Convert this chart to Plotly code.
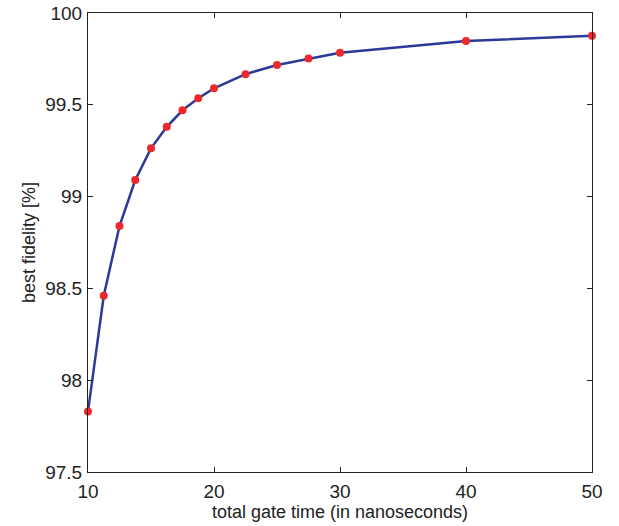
import plotly.graph_objects as go

gate_time_ns = [10, 11.25, 12.5, 13.75, 15, 16.25, 17.5, 18.75, 20, 22.5, 25, 27.5, 30, 40, 50]
best_fidelity = [97.83, 98.46, 98.84, 99.09, 99.263, 99.38, 99.47, 99.535, 99.59,
                 99.667, 99.717, 99.752, 99.783, 99.847, 99.876]

x_ticks = [10, 20, 30, 40, 50]
y_ticks = [97.5, 98, 98.5, 99, 99.5, 100]
y_tick_labels = ["97.5", "98", "98.5", "99", "99.5", "100"]

fig = go.Figure()
fig.add_trace(go.Scatter(
    x=gate_time_ns, y=best_fidelity, mode="lines+markers",
    line=dict(color="#2b3a98", width=2.5),
    marker=dict(color="#ec2a2e", size=8),
    showlegend=False, cliponaxis=False,
))

tick_font = dict(family="Liberation Sans, Arial, sans-serif", size=19, color="#222222")
title_font = dict(family="Liberation Sans, Arial, sans-serif", size=18, color="#222222")
axis_common = dict(
    showgrid=False, zeroline=False, showline=True, linecolor="#222222", linewidth=1,
    ticks="inside", ticklen=5, tickcolor="#222222", tickwidth=1, mirror="ticks",
    tickfont=tick_font, ticklabeloverflow="allow", automargin=False,
)
fig.update_xaxes(range=[10, 50], tickvals=x_ticks,
                 title=dict(text="total gate time (in nanoseconds)", font=title_font, standoff=4),
                 ticklabelstandoff=2, **axis_common)
fig.update_yaxes(range=[97.5, 100], tickvals=y_ticks, ticktext=y_tick_labels,
                 title=dict(text="best fidelity [%]", font=title_font, standoff=4),
                 ticklabelstandoff=1, **axis_common)
fig.update_layout(
    width=619, height=526,
    margin=dict(l=88, r=27, t=13, b=54),
    plot_bgcolor="white", paper_bgcolor="white",
    font=title_font,
)
fig.write_html("out.html", config={"displayModeBar": False},
               post_script="document.body.style.margin='0px';")
